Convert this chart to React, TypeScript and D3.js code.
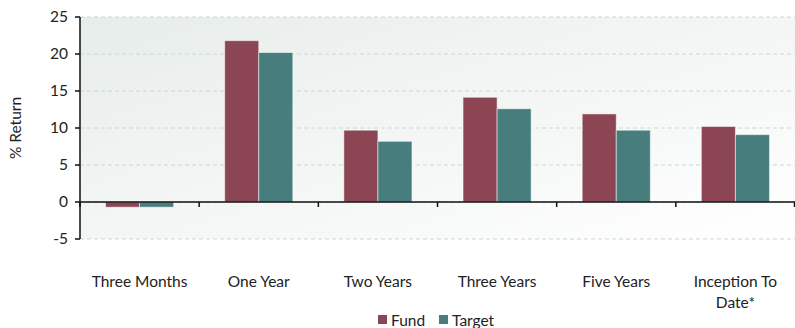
import React from "react";
import * as d3 from "d3";

const categories: string[][] = [
  ["Three Months"],
  ["One Year"],
  ["Two Years"],
  ["Three Years"],
  ["Five Years"],
  ["Inception To", "Date*"],
];
const seriesNames = ["Fund", "Target"];
const fundValues = [-0.7, 21.8, 9.7, 14.15, 11.9, 10.2];
const targetValues = [-0.7, 20.2, 8.2, 12.6, 9.7, 9.1];
const yTicks = [-5, 0, 5, 10, 15, 20, 25];

const colors = ["#8B4553", "#487D7D"];
const W = 795;
const H = 328;
const left = 80;
const right = 795;
const top = 17;
const bottom = 239;
const font = "Lato, 'Open Sans', sans-serif";
const fs = 15.5;

export default function App() {
  const x = d3
    .scaleBand<number>()
    .domain(categories.map((_, i) => i))
    .range([left, right])
    .paddingInner(0)
    .paddingOuter(0);
  const inner = d3
    .scaleBand<number>()
    .domain([0, 1])
    .range([0, x.bandwidth()])
    .paddingOuter(0.75)
    .paddingInner(0);
  const y = d3.scaleLinear().domain([-5, 25]).range([bottom, top]);
  const series = [fundValues, targetValues];

  return (
    <svg
      width={W}
      height={H}
      style={{ position: "absolute", left: 0, top: 0 }}
      fontFamily={font}
    >
      <defs>
        <linearGradient id="bg" x1="0" y1="0" x2="1" y2="1">
          <stop offset="0" stopColor="#e7edea" />
          <stop offset="1" stopColor="#ffffff" />
        </linearGradient>
      </defs>
      <rect x={left} y={top} width={right - left} height={bottom - top} fill="url(#bg)" />
      {yTicks.map((t) => (
        <line
          key={"g" + t}
          x1={left}
          x2={right}
          y1={y(t)}
          y2={y(t)}
          stroke="#c9d9d2"
          strokeDasharray="4,3"
          strokeWidth={1}
        />
      ))}
      {series.map((vals, s) =>
        vals.map((v, i) => (
          <rect
            key={s + "-" + i}
            x={(x(i) as number) + (inner(s) as number)}
            width={inner.bandwidth()}
            y={y(Math.max(0, v))}
            height={Math.abs(y(v) - y(0))}
            fill={colors[s]}
            stroke="#ffffff"
            strokeOpacity={0.5}
            strokeWidth={1}
          />
        ))
      )}
      {/* zero baseline with category ticks */}
      <line x1={left} x2={right} y1={y(0)} y2={y(0)} stroke="#111" strokeWidth={1.5} />
      {categories.map((_, i) => (
        <line
          key={"ct" + i}
          x1={x(i) as number}
          x2={x(i) as number}
          y1={y(0)}
          y2={y(0) + 5}
          stroke="#111"
          strokeWidth={1.5}
        />
      ))}
      <line x1={right - 0.5} x2={right - 0.5} y1={y(0)} y2={y(0) + 5} stroke="#111" strokeWidth={1.5} />
      {/* y axis */}
      <line x1={left} x2={left} y1={top} y2={bottom} stroke="#111" strokeWidth={1.5} />
      {yTicks.map((t) => (
        <g key={"yt" + t}>
          <line x1={left - 5} x2={left} y1={y(t)} y2={y(t)} stroke="#111" strokeWidth={1.5} />
          <text x={left - 12} y={y(t)} dy="0.35em" textAnchor="end" fontSize={fs} fill="#222">
            {t}
          </text>
        </g>
      ))}
      <text
        transform={`translate(21,${(top + bottom) / 2}) rotate(-90)`}
        textAnchor="middle"
        fontSize={fs}
        fill="#222"
      >
        % Return
      </text>
      {categories.map((lines, i) => (
        <text
          key={"cl" + i}
          x={(x(i) as number) + x.bandwidth() / 2}
          y={287}
          textAnchor="middle"
          fontSize={fs}
          fill="#222"
        >
          {lines.map((l, k) => (
            <tspan key={k} x={(x(i) as number) + x.bandwidth() / 2} dy={k === 0 ? 0 : 21}>
              {l}
            </tspan>
          ))}
        </text>
      ))}
      {/* legend */}
      {seriesNames.map((n, s) => {
        const lx = s === 0 ? 378 : 439;
        return (
          <g key={"lg" + n}>
            <rect x={lx} y={315} width={9} height={9} fill={colors[s]} />
            <text x={lx + 13} y={326} fontSize={fs} fill="#222">
              {n}
            </text>
          </g>
        );
      })}
    </svg>
  );
}
